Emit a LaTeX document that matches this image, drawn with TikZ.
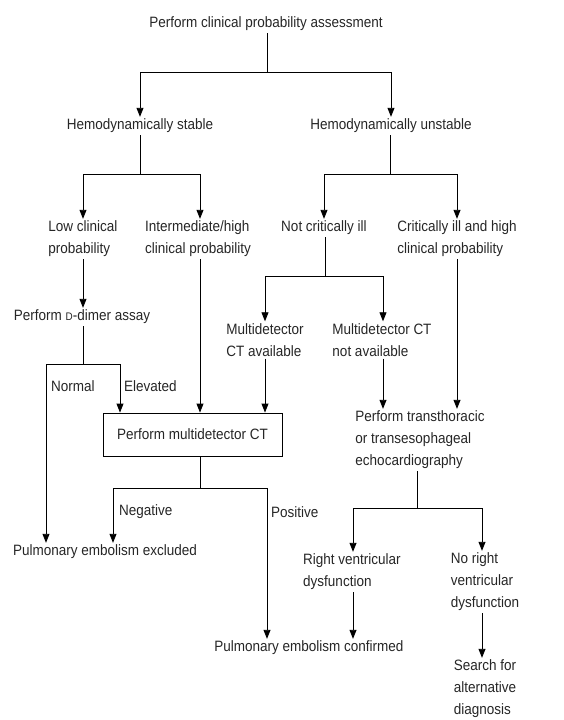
\documentclass[tikz,border=0pt]{standalone}
\usepackage{fontspec}
\setmainfont[FakeStretch=0.9]{Liberation Sans}
\usepackage{tikz}
\usetikzlibrary{calc,shapes,arrows.meta}
\tikzstyle{steptext}=[font=\fontsize{15}{22}\selectfont,align=left,
                      text=black!85,inner sep=2pt]
\tikzstyle{ctbox}=[rectangle,draw=black,fill=white,line width=0.9pt,
                   minimum width=179pt,minimum height=43pt,
                   font=\fontsize{15}{22}\selectfont,text=black!85]
\tikzstyle{branchlabel}=[anchor=west,font=\fontsize{15}{22}\selectfont,
                         text=black!85,inner sep=1pt]
\tikzstyle{flow}=[-{Triangle[length=9pt,width=7pt]},line width=0.9pt]
\tikzstyle{link}=[line width=0.9pt]
\newcommand\smalld{{\fontsize{11}{13}\selectfont D}}

\begin{document}
\begin{tikzpicture}[x=1pt,y=-1pt]
    \useasboundingbox (0,0) rectangle (563,720);

    % top level
    \node [steptext] (assess) at (266,24) {Perform clinical probability assessment};
    \node [steptext] (stable) at (140,126) {Hemodynamically stable};
    \node [steptext] (unstable) at (391,126) {Hemodynamically unstable};

    % second level
    \node [steptext] (lowprob) at (83,239) {Low clinical\\probability};
    \node [steptext] (highprob) at (198,239) {Intermediate/high\\clinical probability};
    \node [steptext] (notcrit) at (324,228) {Not critically ill};
    \node [steptext] (crit) at (457,239) {Critically ill and high\\clinical probability};

    \node [steptext] (ddimer) at (82,317) {Perform \smalld-dimer assay};
    \node [steptext] (ctavail) at (265,340) {Multidetector\\CT available};
    \node [steptext] (ctnot) at (382,340) {Multidetector CT\\not available};

    \node [ctbox] (mdct) at (192.5,434.5) {Perform multidetector CT};
    \node [steptext] (echo) at (420,440) {Perform transthoracic\\or transesophageal\\echocardiography};

    % outcomes
    \node [steptext] (excluded) at (105,552) {Pulmonary embolism excluded};
    \node [steptext] (rvd) at (352,572) {Right ventricular\\dysfunction};
    \node [steptext] (norvd) at (485,582) {No right\\ventricular\\dysfunction};
    \node [steptext] (confirmed) at (309,648) {Pulmonary embolism confirmed};
    \node [steptext] (search) at (485,689) {Search for\\alternative\\diagnosis};

    % branch points
    \coordinate (topsplit) at (267,72);
    \coordinate (stablesplit) at (140,174);
    \coordinate (highcol) at (200,174);
    \coordinate (unstablesplit) at (390,174);
    \coordinate (critsplit) at (325,276);
    \coordinate (ctavailtop) at (265,276);
    \coordinate (ctnottop) at (383,276);
    \coordinate (dnormal) at (46,364);
    \coordinate (delev) at (120,364);
    \coordinate (ctsplit) at (200,488);
    \coordinate (ctneg) at (113,488);
    \coordinate (ctpos) at (267,488);
    \coordinate (echosplit) at (417,508);
    \coordinate (rvdtop) at (353,508);
    \coordinate (norvdtop) at (482,508);

    \draw [link] (assess.south -| topsplit) -- (topsplit);
    \draw [flow] (topsplit) -| (stable.north);
    \draw [flow] (topsplit) -| (unstable.north);

    \draw [link] (stable.south) -- (stablesplit);
    \draw [flow] (stablesplit) -| (lowprob.north);
    \draw [link] (stablesplit) -- (highcol);
    \draw [flow] (highcol) -- (highcol |- highprob.north);
    \draw [link] (unstable.south -| unstablesplit) -- (unstablesplit);
    \draw [flow] (unstablesplit) -| (notcrit.north);
    \draw [flow] (unstablesplit) -| (crit.north);

    \draw [flow] (lowprob.south) -- (lowprob.south |- ddimer.north);
    \draw [link] (notcrit.south -| critsplit) -- (critsplit);
    \draw [link] (ctavailtop) -- (ctnottop);
    \draw [flow] (ctavailtop) -- (ctavail.north);
    \draw [flow] (ctnottop) -- (ctnottop |- ctnot.north);

    \draw [link] (ddimer.south -| lowprob) -- (lowprob |- dnormal);
    \draw [link] (dnormal) -- (delev);
    \draw [flow] (dnormal) -- (dnormal |- excluded.north);
    \draw [flow] (delev) -- (delev |- mdct.north);
    \node [branchlabel] (normal) at (50,386) {Normal};
    \node [branchlabel] (elevated) at (123,386) {Elevated};

    \draw [flow] (highprob.south -| highcol) -- (highcol |- mdct.north);
    \draw [flow] (ctavail.south) -- (ctavail.south |- mdct.north);
    \draw [flow] (ctnot.south -| ctnottop) -- (ctnottop |- echo.north);
    \draw [flow] (crit.south) -- (crit.south |- echo.north);

    \draw [link] (mdct.south -| ctsplit) -- (ctsplit);
    \draw [link] (ctneg) -- (ctpos);
    \draw [flow] (ctneg) -- (ctneg |- excluded.north);
    \draw [flow] (ctpos) -- (ctpos |- confirmed.north);
    \node [branchlabel] (negative) at (118,512) {Negative};
    \node [branchlabel] (positive) at (270,512) {Positive};

    \draw [link] (echo.south -| echosplit) -- (echosplit);
    \draw [link] (rvdtop) -- (norvdtop);
    \draw [flow] (rvdtop) -- (rvdtop |- rvd.north);
    \draw [flow] (norvdtop) -- (norvdtop |- norvd.north);
    \draw [flow] (rvd.south -| rvdtop) -- (rvdtop |- confirmed.north);
    \draw [flow] (norvd.south -| norvdtop) -- (norvdtop |- search.north);
\end{tikzpicture}
\end{document}
